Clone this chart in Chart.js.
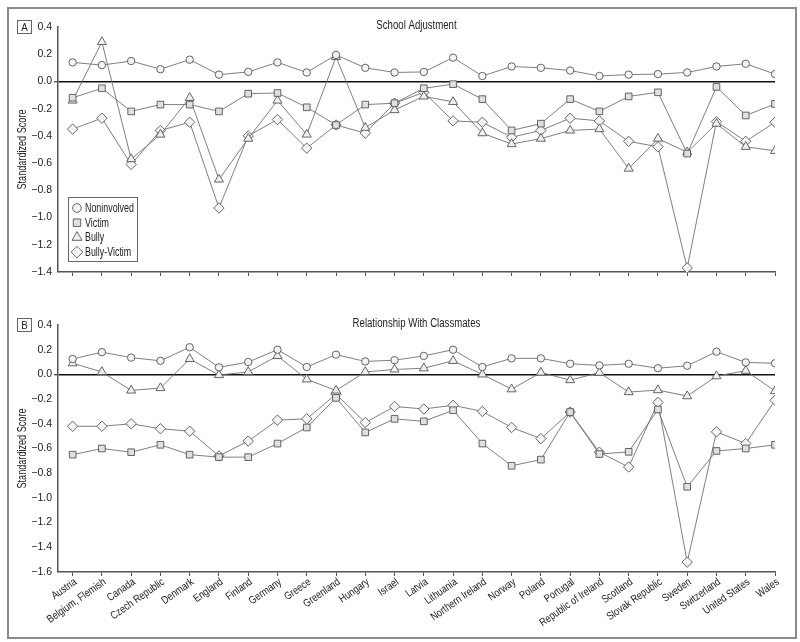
<!DOCTYPE html>
<html>
<head>
<meta charset="utf-8">
<script src="https://cdn.jsdelivr.net/npm/chart.js@4/dist/chart.umd.min.js"></script>
<style>
  html, body { margin: 0; padding: 0; background: #fff; }
  #page { position: relative; width: 800px; height: 642px; }
  #frame { position: absolute; left: 7px; top: 7px; width: 786px; height: 628px; border: 2px solid #8a8a8a; }
  canvas { position: absolute; left: 0; }
  #chartA { top: 0; }
  #chartB { top: 290px; }
</style>
</head>
<body>
<div id="page">
  <div id="frame"></div>
  <canvas id="chartA" width="800" height="290"></canvas>
  <canvas id="chartB" width="800" height="352"></canvas>
</div>
<script>
// countries on the x axis
const countries = ['Austria', 'Belgium, Flemish', 'Canada', 'Czech Republic', 'Denmark', 'England',
  'Finland', 'Germany', 'Greece', 'Greenland', 'Hungary', 'Israel', 'Latvia', 'Lithuania',
  'Northern Ireland', 'Norway', 'Poland', 'Portugal', 'Republic of Ireland', 'Scotland',
  'Slovak Republic', 'Sweden', 'Switzerland', 'United States', 'Wales'];

const groups = ['Noninvolved', 'Victim', 'Bully', 'Bully-Victim'];

// A: School Adjustment
const noninvolvedA = [0.14, 0.12, 0.15, 0.09, 0.16, 0.05, 0.07, 0.14, 0.066, 0.195, 0.10, 0.066, 0.07,
  0.175, 0.04, 0.11, 0.10, 0.08, 0.04, 0.05, 0.054, 0.066, 0.11, 0.13, 0.054];
const victimA = [-0.12, -0.05, -0.22, -0.17, -0.17, -0.22, -0.09, -0.085, -0.19, -0.32, -0.17, -0.16, -0.05,
  -0.02, -0.13, -0.36, -0.31, -0.13, -0.22, -0.11, -0.08, -0.53, -0.04, -0.25, -0.165];
const bullyA = [-0.14, 0.29, -0.57, -0.39, -0.12, -0.72, -0.42, -0.14, -0.39, 0.18, -0.34, -0.21, -0.11,
  -0.15, -0.38, -0.46, -0.42, -0.36, -0.35, -0.64, -0.42, -0.52, -0.31, -0.48, -0.51];
const bullyVictimA = [-0.35, -0.27, -0.61, -0.36, -0.30, -0.93, -0.40, -0.28, -0.49, -0.32, -0.38, -0.16, -0.08,
  -0.29, -0.30, -0.41, -0.36, -0.27, -0.29, -0.44, -0.48, -1.37, -0.295, -0.44, -0.30];

// B: Relationship With Classmates
const noninvolvedB = [0.125, 0.18, 0.136, 0.11, 0.22, 0.057, 0.10, 0.20, 0.06, 0.16, 0.105, 0.115, 0.15,
  0.20, 0.06, 0.13, 0.13, 0.086, 0.073, 0.086, 0.05, 0.07, 0.184, 0.097, 0.09];
const victimB = [-0.65, -0.60, -0.63, -0.57, -0.65, -0.67, -0.67, -0.56, -0.43, -0.19, -0.47, -0.36, -0.38,
  -0.29, -0.56, -0.74, -0.69, -0.305, -0.645, -0.627, -0.284, -0.91, -0.62, -0.60, -0.57];
const bullyB = [0.09, 0.02, -0.13, -0.11, 0.125, -0.005, 0.02, 0.15, -0.04, -0.13, 0.02, 0.04, 0.05,
  0.11, 0.0, -0.12, 0.015, -0.046, 0.014, -0.143, -0.127, -0.176, -0.014, 0.03, -0.135];
const bullyVictimB = [-0.42, -0.42, -0.40, -0.44, -0.46, -0.66, -0.54, -0.37, -0.36, -0.16, -0.39, -0.26, -0.28,
  -0.25, -0.30, -0.43, -0.52, -0.305, -0.63, -0.75, -0.227, -1.52, -0.465, -0.56, -0.21];

const FONT = "'Liberation Sans', Arial, sans-serif";
Chart.defaults.font.family = FONT;
Chart.defaults.color = '#222';

const LINE = '#707070';
const EDGE = '#555';
const markers = [
  { style: 'circle', r: 3.7, fill: '#f4f4f4' },
  { style: 'rect', r: 4.7, fill: '#e0e0e0' },
  { style: 'triangle', r: 5.2, fill: '#f0f0f0' },
  { style: 'rectRot', r: 5.2, fill: '#f4f4f4' }
];

function makeDatasets(series) {
  return series.map((vals, i) => ({
    label: groups[i],
    data: vals.map((v, j) => ({ x: j, y: v })),
    borderColor: LINE,
    borderWidth: 0.9,
    pointStyle: markers[i].style,
    pointRadius: markers[i].r,
    pointBackgroundColor: markers[i].fill,
    pointBorderColor: EDGE,
    pointBorderWidth: 0.9,
    tension: 0
  }));
}

function fmt(v) {
  if (Math.abs(v) < 1e-9) return '0.0';
  return v.toFixed(1).replace('-', '\u2212');
}

// condensed text: the original uses a narrow face we don't have
function narrowText(ctx, text, x, y, opt) {
  ctx.save();
  ctx.translate(x, y);
  if (opt.angle) ctx.rotate(opt.angle);
  ctx.scale(opt.sx || 0.8, 1);
  ctx.font = opt.size + 'px ' + FONT;
  ctx.fillStyle = '#222';
  ctx.textAlign = opt.align || 'left';
  ctx.textBaseline = opt.baseline || 'middle';
  ctx.fillText(text, 0, 0);
  ctx.restore();
}

// panel title, letter box, axis title, x labels and legend
const decoPlugin = {
  id: 'deco',
  afterDraw(chart, args, opts) {
    const ctx = chart.ctx;
    const a = chart.chartArea;
    narrowText(ctx, opts.title, (a.left + a.right) / 2, a.top - 1, { size: 12.5, sx: 0.77, align: 'center' });

    ctx.save();
    ctx.strokeStyle = '#666';
    ctx.lineWidth = 1;
    ctx.strokeRect(17.5, a.top - 6.5, 14, 13);
    ctx.restore();
    narrowText(ctx, opts.letter, 24.5, a.top + 0.5, { size: 11.5, sx: 0.85, align: 'center' });

    narrowText(ctx, 'Standardized Score', 23, (a.top + a.bottom) / 2, { size: 12, sx: 0.76, align: 'center', angle: -Math.PI / 2 });

    if (opts.xLabels) {
      const sx = chart.scales.x;
      countries.forEach((c, i) => {
        const px = sx.getPixelForValue(i);
        narrowText(ctx, c, px + 3, sx.top + 9, { size: 11, sx: 0.82, align: 'right', angle: -35 * Math.PI / 180 });
      });
    }

    if (opts.legend) {
      const x0 = a.left + 10, y0 = 197;
      ctx.save();
      ctx.strokeStyle = '#666';
      ctx.lineWidth = 1;
      ctx.strokeRect(x0 + 0.5, y0 + 0.5, 69, 64);
      groups.forEach((g, i) => {
        const y = y0 + 11 + i * 14.7;
        ctx.fillStyle = markers[i].fill;
        ctx.strokeStyle = EDGE;
        ctx.lineWidth = 0.9;
        Chart.helpers.drawPoint(ctx, { pointStyle: markers[i].style, radius: markers[i].r + 0.6, rotation: 0, borderWidth: 0.9 }, x0 + 9, y);
        narrowText(ctx, g, x0 + 17, y + 0.5, { size: 12, sx: 0.74 });
      });
      ctx.restore();
    }
  }
};

function makeChart(id, series, cfg) {
  return new Chart(document.getElementById(id), {
    type: 'line',
    data: { datasets: makeDatasets(series) },
    plugins: [decoPlugin],
    options: {
      responsive: false,
      animation: false,
      layout: { padding: { left: 0, right: 25, top: cfg.top, bottom: 0 } },
      plugins: {
        legend: { display: false },
        tooltip: { enabled: false },
        deco: { title: cfg.title, letter: cfg.letter, legend: cfg.legend, xLabels: cfg.xLabels }
      },
      scales: {
        x: {
          type: 'linear',
          min: -0.5,
          max: 24,
          afterBuildTicks: s => { s.ticks = countries.map((c, i) => ({ value: i })); },
          afterFit: s => { s.height = cfg.xHeight; },
          border: { color: EDGE, width: 1.5 },
          grid: { drawOnChartArea: false, drawTicks: true, tickLength: 4, tickColor: EDGE },
          ticks: { display: false }
        },
        y: {
          min: cfg.min,
          max: 0.4,
          afterFit: s => { s.width = 58; },
          border: { color: EDGE, width: 1.5 },
          grid: {
            color: c => (Math.abs(c.tick.value) < 1e-9 ? '#111' : 'rgba(0,0,0,0)'),
            lineWidth: c => (Math.abs(c.tick.value) < 1e-9 ? 1.4 : 0),
            tickColor: EDGE,
            tickLength: 4
          },
          ticks: { stepSize: 0.2, padding: 2, font: { size: 10.5 }, callback: v => fmt(v) }
        }
      }
    }
  });
}

makeChart('chartA', [noninvolvedA, victimA, bullyA, bullyVictimA],
  { title: 'School Adjustment', letter: 'A', legend: true, xLabels: false, min: -1.4, top: 27, xHeight: 18 });
makeChart('chartB', [noninvolvedB, victimB, bullyB, bullyVictimB],
  { title: 'Relationship With Classmates', letter: 'B', legend: false, xLabels: true, min: -1.6, top: 35, xHeight: 70 });
</script>
</body>
</html>
